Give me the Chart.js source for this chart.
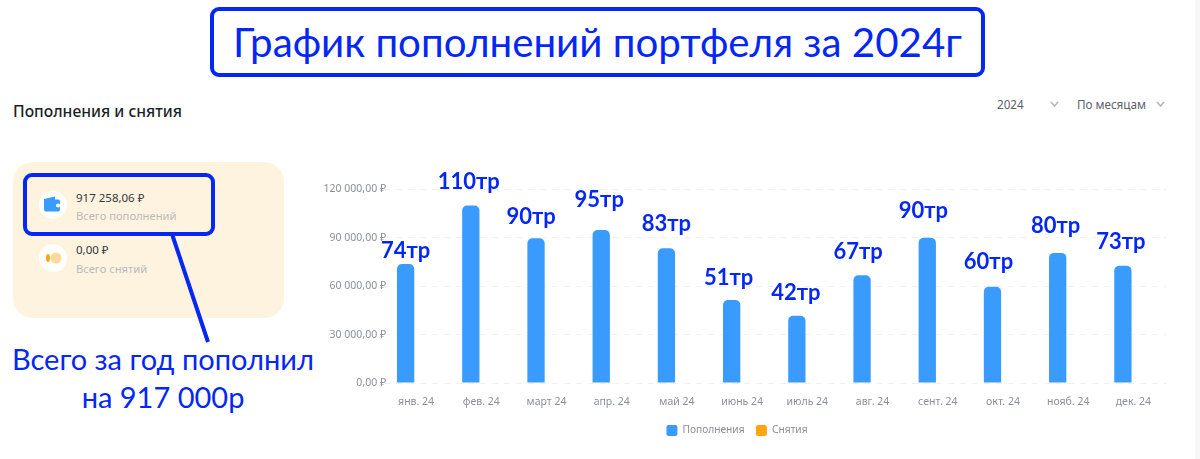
<!DOCTYPE html>
<html lang="ru">
<head>
<meta charset="utf-8">
<title>График пополнений</title>
<script src="https://cdn.jsdelivr.net/npm/chart.js@4"></script>
<style>
  html, body { margin: 0; padding: 0; background: #fff; }
  body { position: relative; width: 1200px; height: 459px; overflow: hidden; font-family: "Noto Sans", sans-serif; }
  .abs { position: absolute; white-space: nowrap; }
  .blue { color: #0527f5; font-family: Lato, "Noto Sans", sans-serif; }
  #edge { left: 1195px; top: 0; width: 5px; height: 459px; background: #f8f8f8; }
  #titleBox { left: 210px; top: 7px; width: 767px; height: 62px; border: 4px solid #0527f5; border-radius: 9px; background: #fff;
    font-size: 40.300px; line-height: 62px; text-align: center; }
  #panel { left: 13px; top: 162px; width: 271px; height: 156px; background: #fef3de; border-radius: 20px; }
  #callout { left: 23px; top: 173px; width: 184px; height: 55px; border: 4px solid #0527f5; border-radius: 9px; }
  .dot { width: 28px; height: 28px; border-radius: 50%; background: #fff; left: 39px; }
  .val { left: 76px; font-size: 11.500px; color: #33373f; }
  .cap { left: 76px; font-size: 11.200px; color: #b9b9bd; }
  #note { left: 0; width: 326px; text-align: center; font-size: 29px; line-height: 37.500px; top: 340px; }
  #chartWrap { position: absolute; left: 308px; top: 150px; width: 858px; height: 305px; }
</style>
</head>
<body>
<div class="abs" id="edge"></div>
<div class="abs blue" id="titleBox">График пополнений портфеля за 2024г</div>
<div class="abs" style="left:13px;top:100px;font-size:15.700px;font-weight:500;color:#1c1f26">Пополнения и снятия</div>
<div class="abs" style="left:997px;top:96px;font-size:11.700px;color:#5c6068">2024</div>
<div class="abs" style="left:1077px;top:96px;font-size:11.700px;color:#5c6068">По месяцам</div>
<svg class="abs" style="left:1048px;top:100px" width="120" height="10" fill="none" stroke="#b4b8bf" stroke-width="1.6">
  <path d="M3 2l3.500 4 3.500-4"/><path d="M109 2l3.500 4 3.500-4"/>
</svg>

<div class="abs" id="panel"></div>
<div class="abs dot" style="top:191px"></div>
<div class="abs dot" style="top:244px"></div>
<svg class="abs" style="left:39px;top:191px" width="28" height="82">
  <path d="M5 8l11-2.500v3h3a2 2 0 0 1 2 2v8a2 2 0 0 1-2 2H7a2 2 0 0 1-2-2z" fill="#3a9bff"/>
  <circle cx="19" cy="14.500" r="2" fill="#fff"/>
  <circle cx="17" cy="67" r="5.500" fill="#fdd9a0"/>
  <ellipse cx="9" cy="67" rx="2" ry="4" fill="#ffa516"/>
</svg>
<div class="abs val" style="top:190px">917 258,06 ₽</div>
<div class="abs cap" style="top:208px">Всего пополнений</div>
<div class="abs val" style="top:242px">0,00 ₽</div>
<div class="abs cap" style="top:261px">Всего снятий</div>
<div class="abs" id="callout"></div>
<svg class="abs" style="left:160px;top:230px" width="60" height="116">
  <line x1="12" y1="4" x2="48" y2="112" stroke="#0527f5" stroke-width="4"/>
</svg>
<div class="abs blue" id="note">Всего за год пополнил<br>на 917 000р</div>

<div id="chartWrap"><canvas id="flowChart"></canvas></div>

<script>
const months = ['янв. 24', 'фев. 24', 'март 24', 'апр. 24', 'май 24', 'июнь 24', 'июль 24', 'авг. 24', 'сент. 24', 'окт. 24', 'нояб. 24', 'дек. 24'];
const deposits = [73600, 109800, 89600, 94700, 83400, 51300, 41600, 66600, 89800, 59600, 80500, 72600];
const withdrawals = [0, 0, 0, 0, 0, 0, 0, 0, 0, 0, 0, 0];
const notes = ['74тр', '110тр', '90тр', '95тр', '83тр', '51тр', '42тр', '67тр', '90тр', '60тр', '80тр', '73тр'];
const yTicks = [0, 30000, 60000, 90000, 120000];

// hand placed annotations, offset from the top of each bar
const noteDx = [0, -2, -5, -2, 0, -3, -1, -4, -4, -4, -2, -2];
const noteDy = [13, 24, 21, 30, 24, 22, 23, 23, 27, 25, 27, 24];

const FONT = '"Noto Sans", sans-serif';
Chart.defaults.font.family = FONT;
Chart.defaults.font.size = 10.5;
Chart.defaults.color = '#8b8f9b';
Chart.defaults.animation = false;

const rub = (v) => v.toLocaleString('ru-RU', { minimumFractionDigits: 2, maximumFractionDigits: 2 }).replace(/\s/g, ' ') + ' ₽';

const notePlugin = {
  id: 'notes',
  // tick labels run slightly into the plot in the original
  afterLayout(chart) {
    chart.scales.y.right += 2.5;
  },
  afterDatasetsDraw(chart) {
    const { ctx } = chart;
    const bars = chart.getDatasetMeta(0).data;
    ctx.save();
    ctx.font = 'bold 22px Lato, "Noto Sans", sans-serif';
    ctx.fillStyle = '#0527f5';
    ctx.textAlign = 'center';
    ctx.textBaseline = 'middle';
    notes.forEach((text, i) => {
      ctx.fillText(text, bars[i].x + noteDx[i], bars[i].y - noteDy[i]);
    });
    ctx.restore();
  }
};

new Chart(document.getElementById('flowChart'), {
  type: 'bar',
  data: {
    labels: months,
    datasets: [
      { label: 'Пополнения', data: deposits, backgroundColor: '#3a9bff', categoryPercentage: 0.644, barPercentage: 0.824, borderRadius: { topLeft: 5, topRight: 5 }, borderSkipped: 'bottom' },
      { label: 'Снятия', data: withdrawals, backgroundColor: '#ffa516', categoryPercentage: 0.644, barPercentage: 0.824, borderWidth: 0 },
    ]
  },
  options: {
    responsive: true, maintainAspectRatio: false,
    layout: { padding: { top: 39, bottom: 9, left: 0, right: 0 } },
    plugins: {
      legend: {
        position: 'bottom',
        labels: { boxWidth: 11, boxHeight: 11, padding: 11.300, useBorderRadius: true, borderRadius: 2, color: '#8b8f9b', font: { size: 10.2 } }
      },
      tooltip: { enabled: false },
    },
    scales: {
      x: {
        grid: { display: false },
        border: { display: false },
        ticks: { padding: 5, maxRotation: 0, autoSkip: false },
      },
      y: {
        min: 0, max: 120000,
        afterFit: (s) => { s.width = 75.500; },
        afterBuildTicks: (s) => { s.ticks = yTicks.map(value => ({ value })); },
        grid: { color: '#f0f0f2', drawTicks: false },
        border: { display: false, dash: [6, 6] },
        ticks: { padding: 0, callback: (v) => rub(v) },
      },
    }
  },
  plugins: [notePlugin]
});
</script>
</body>
</html>
